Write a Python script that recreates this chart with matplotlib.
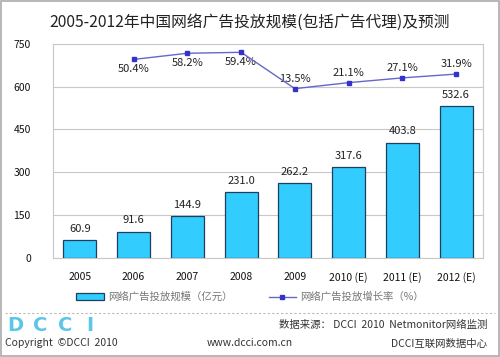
import numpy as np
import matplotlib.pyplot as plt
from matplotlib.lines import Line2D
from matplotlib.patches import Patch, Rectangle

plt.rcParams['font.family'] = ['Noto Sans CJK SC', 'DejaVu Sans']

# --- data ---
years = ['2005', '2006', '2007', '2008', '2009', '2010 (E)', '2011 (E)', '2012 (E)']
spend = [60.9, 91.6, 144.9, 231.0, 262.2, 317.6, 403.8, 532.6]
growth_years = years[1:]
growth = [50.4, 58.2, 59.4, 13.5, 21.1, 27.1, 31.9]

bar_color = '#33CCFF'
edge_color = '#1F3F5F'
line_color = '#6666CC'
marker_color = '#3333CC'

fig = plt.figure(figsize=(5, 3.57), dpi=100)
fig.patch.set_facecolor('white')
fig.patches.append(Rectangle((0.002, 0.003), 0.995, 0.994, transform=fig.transFigure,
                             fill=False, edgecolor='#AAAAAA', lw=1.2))

ax = fig.add_axes([0.106, 0.278, 0.86, 0.599])
x = np.arange(len(years))
ax.bar(x, spend, width=0.61, color=bar_color, edgecolor=edge_color, lw=0.9, zorder=3)
for xi, v in zip(x, spend):
    ax.text(xi, v + 22, f'{v:.1f}', ha='center', va='bottom', fontsize=8, color='#222222')

ax.set_xlim(-0.5, len(years) - 0.5)
ax.set_ylim(0, 750)
ax.set_yticks([0, 150, 300, 450, 600, 750])
ax.set_xticks(x)
ax.set_xticklabels(years)
ax.tick_params(axis='both', length=0, labelsize=7.5, colors='#111111')
ax.tick_params(axis='y', pad=16)
ax.tick_params(axis='x', pad=10)
ax.grid(axis='y', color='#C8C8C8', lw=0.8, zorder=0)
for s in ax.spines.values():
    s.set_color('#C8C8C8')

ax2 = ax.twinx()
gx = np.arange(1, len(years))
ax2.plot(gx, growth, color=line_color, lw=1, marker='s', ms=3.5,
         mfc=marker_color, mec=marker_color, zorder=4)
ax2.set_ylim(-200, 70)
ax2.set_yticks([])
for s in ax2.spines.values():
    s.set_visible(False)
for xi, g in zip(gx, growth):
    if g > 40:
        ax2.text(xi, g - 6, f'{g:.1f}%', ha='center', va='top', fontsize=8, color='#222222')
    else:
        ax2.text(xi, g + 6, f'{g:.1f}%', ha='center', va='bottom', fontsize=8, color='#222222')

fig.text(0.5, 0.938, '2005-2012年中国网络广告投放规模(包括广告代理)及预测',
         ha='center', va='center', fontsize=11.3, color='#222222')

handles = [Patch(facecolor=bar_color, edgecolor=edge_color, lw=0.9),
           Line2D([0], [0], color=line_color, lw=1, marker='s', ms=3,
                  mfc=marker_color, mec=marker_color)]
fig.legend(handles, ['网络广告投放规模（亿元）', '网络广告投放增长率（%）'],
           loc='center', bbox_to_anchor=(0.5, 0.168), ncol=2, frameon=False,
           fontsize=7.5, labelcolor='#777777', handlelength=2.6, handleheight=0.7,
           columnspacing=3.5, handletextpad=0.4)

fig.add_artist(Line2D([0.01, 0.99], [0.122, 0.122], transform=fig.transFigure,
                      color='#BBBBBB', lw=0.8, ls=(0, (2, 2))))
for i, ch in enumerate('DCCI'):
    fig.text(0.03 + i * 0.05, 0.088, ch, ha='center', va='center', fontsize=14,
             fontweight='bold', color='#5BC6E8', family=['DejaVu Sans'])
fig.text(0.975, 0.09, '数据来源： DCCI  2010  Netmonitor网络监测', ha='right',
         va='center', fontsize=7.5, color='#333333')
fig.text(0.01, 0.038, 'Copyright  ©DCCI  2010', ha='left', va='center',
         fontsize=7.5, color='#333333')
fig.text(0.5, 0.038, 'www.dcci.com.cn', ha='center', va='center',
         fontsize=7.5, color='#333333')
fig.text(0.975, 0.038, 'DCCI互联网数据中心', ha='right', va='center',
         fontsize=7.5, color='#333333')

fig.savefig('out.png', dpi=100)
